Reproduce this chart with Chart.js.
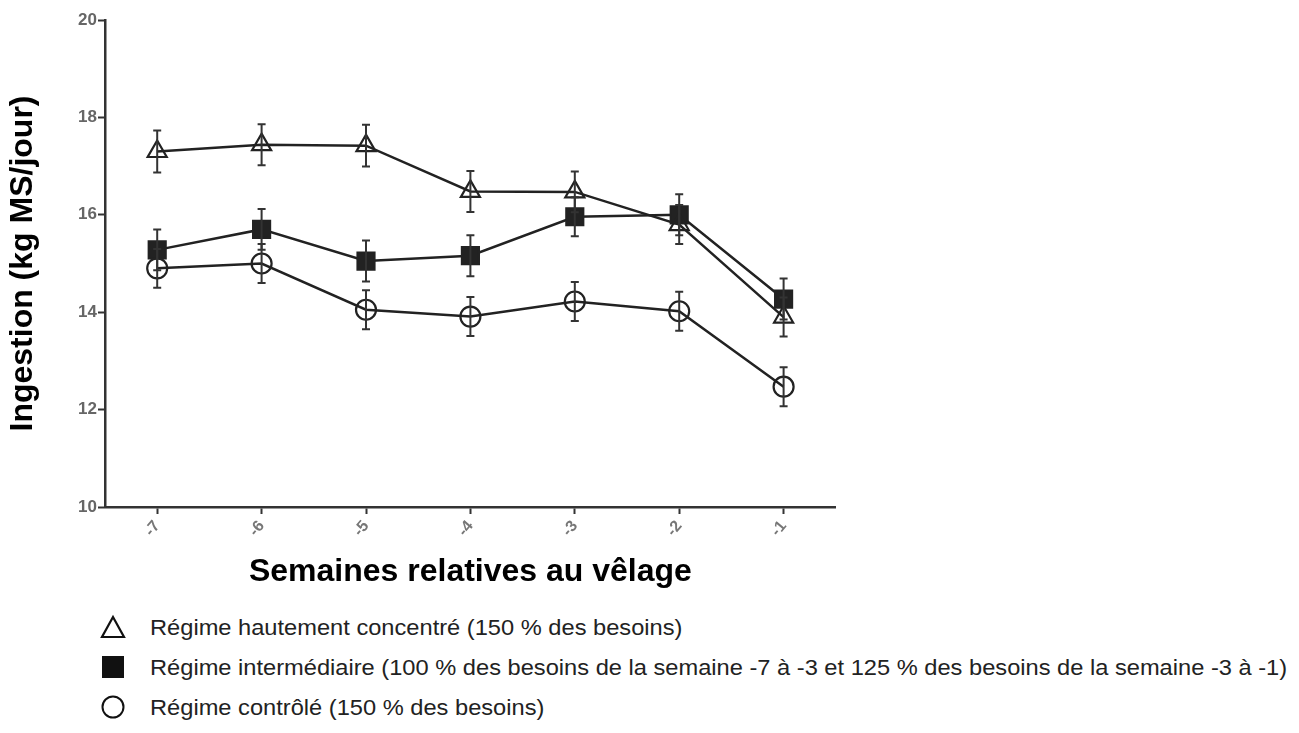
<!DOCTYPE html>
<html>
<head>
<meta charset="utf-8">
<script src="https://cdn.jsdelivr.net/npm/chart.js@4/dist/chart.umd.min.js"></script>
<style>
  body { margin: 0; background: #fff; font-family: "Liberation Sans", Arial, sans-serif; }
  #wrap { position: absolute; left: 0; top: 0; width: 850px; height: 595px; }
  .item { position: absolute; left: 100px; height: 30px; }
  .item svg { position: absolute; left: 0; top: 2px; width: 26px; height: 26px; }
  .item span { position: absolute; left: 50px; top: 4px; white-space: nowrap; font-size: 21.5px; color: #222; transform: scaleX(1.1); transform-origin: left center; }
</style>
</head>
<body>
<div id="wrap"><canvas id="ingestion"></canvas></div>
<div class="item" style="top:612px"><svg viewBox="0 0 26 26"><polygon points="13,3 24,23 2,23" fill="none" stroke="#111" stroke-width="2.2"/></svg><span>Régime hautement concentré (150 % des besoins)</span></div>
<div class="item" style="top:652px"><svg viewBox="0 0 26 26"><rect x="2" y="2" width="22" height="22" fill="#111"/></svg><span>Régime intermédiaire (100 % des besoins de la semaine -7 à -3 et 125 % des besoins de la semaine -3 à -1)</span></div>
<div class="item" style="top:692px"><svg viewBox="0 0 26 26"><circle cx="13" cy="13" r="10.5" fill="none" stroke="#111" stroke-width="2"/></svg><span>Régime contrôlé (150 % des besoins)</span></div>
<script>
///////////////////////////////// DONNEES

const semaines = ["-7", "-6", "-5", "-4", "-3", "-2", "-1"];
const yTicks = [10, 12, 14, 16, 18, 20];

const concentre = [17.3, 17.44, 17.42, 16.48, 16.47, 15.8, 13.9];
const concentreErr = [0.43, 0.42, 0.43, 0.42, 0.42, 0.4, 0.4];

const intermediaire = [15.28, 15.7, 15.05, 15.16, 15.96, 16.0, 14.27];
const intermediaireErr = [0.42, 0.42, 0.42, 0.42, 0.4, 0.42, 0.42];

const controle = [14.9, 15.0, 14.05, 13.91, 14.22, 14.02, 12.47];
const controleErr = [0.4, 0.4, 0.4, 0.4, 0.4, 0.4, 0.4];

///////////////////////////////// BARRES D'ERREUR (plugin)

const errorBars = {
    id: 'errorBars',
    afterDatasetsDraw(chart) {
        const ctx = chart.ctx;
        const y = chart.scales.y;
        ctx.save();
        ctx.strokeStyle = '#333';
        ctx.lineWidth = 2;
        chart.data.datasets.forEach((ds, i) => {
            const meta = chart.getDatasetMeta(i);
            meta.data.forEach((pt, j) => {
                const top = y.getPixelForValue(ds.data[j] + ds.err[j]);
                const bot = y.getPixelForValue(ds.data[j] - ds.err[j]);
                ctx.beginPath();
                ctx.moveTo(pt.x, top); ctx.lineTo(pt.x, bot);
                ctx.moveTo(pt.x - 4, top); ctx.lineTo(pt.x + 4, top);
                ctx.moveTo(pt.x - 4, bot); ctx.lineTo(pt.x + 4, bot);
                ctx.stroke();
            });
        });
        ctx.restore();
    }
};

///////////////////////////////// GRAPH

function serie(label, data, err, style, radius, fill) {
    return {
        label: label,
        data: data,
        err: err,
        borderColor: '#222',
        borderWidth: 2.5,
        pointStyle: style,
        pointRadius: radius,
        pointBorderWidth: 2.2,
        pointBorderColor: '#222',
        pointBackgroundColor: fill,
        tension: 0,
        fill: false
    };
}

let chart = document.getElementById("ingestion");
let linechart = new Chart(chart, {
    type: 'line',
    data: {
        labels: semaines,
        datasets: [
            serie("Régime hautement concentré", concentre, concentreErr, 'triangle', 11, 'rgba(255,255,255,0)'),
            serie("Régime intermédiaire", intermediaire, intermediaireErr, 'rect', 12, '#222'),
            serie("Régime contrôlé", controle, controleErr, 'circle', 10, 'rgba(255,255,255,0)')
        ]
    },
    plugins: [errorBars],
    options: {
        responsive: true,
        maintainAspectRatio: false,
        animation: false,
        layout: { padding: { top: 20, right: 10, left: 0, bottom: 0 } },
        plugins: {
            legend: { display: false },
            tooltip: { enabled: false }
        },
        scales: {
            x: {
                offset: true,
                border: { color: '#333', width: 2.5 },
                grid: { display: true, drawOnChartArea: false, drawTicks: true, tickLength: 7, tickColor: '#333', tickWidth: 2 },
                ticks: { color: '#777', font: { size: 16, weight: 'bold', family: 'Liberation Sans' }, minRotation: 50, maxRotation: 50, padding: 3 },
                title: { display: true, text: 'Semaines relatives au vêlage', color: '#000', font: { size: 32, weight: 'bold', family: 'Liberation Sans' }, padding: { top: 2 } },
                afterFit: function (scale) { scale.height = 88; }
            },
            y: {
                min: 10,
                max: 20,
                border: { color: '#333', width: 2.5 },
                grid: { display: true, drawOnChartArea: false, drawTicks: true, tickLength: 7, tickColor: '#333', tickWidth: 2 },
                afterBuildTicks: function (scale) { scale.ticks = yTicks.map(v => ({ value: v })); },
                ticks: { color: '#666', font: { size: 17, weight: 'bold', family: 'Liberation Sans' }, padding: 1 },
                title: { display: true, text: 'Ingestion (kg MS/jour)', color: '#000', font: { size: 32, weight: 'bold', family: 'Liberation Sans' }, padding: { bottom: 21 } },
                afterFit: function (scale) { scale.width = 105; }
            }
        }
    }
});
</script>
</body>
</html>
